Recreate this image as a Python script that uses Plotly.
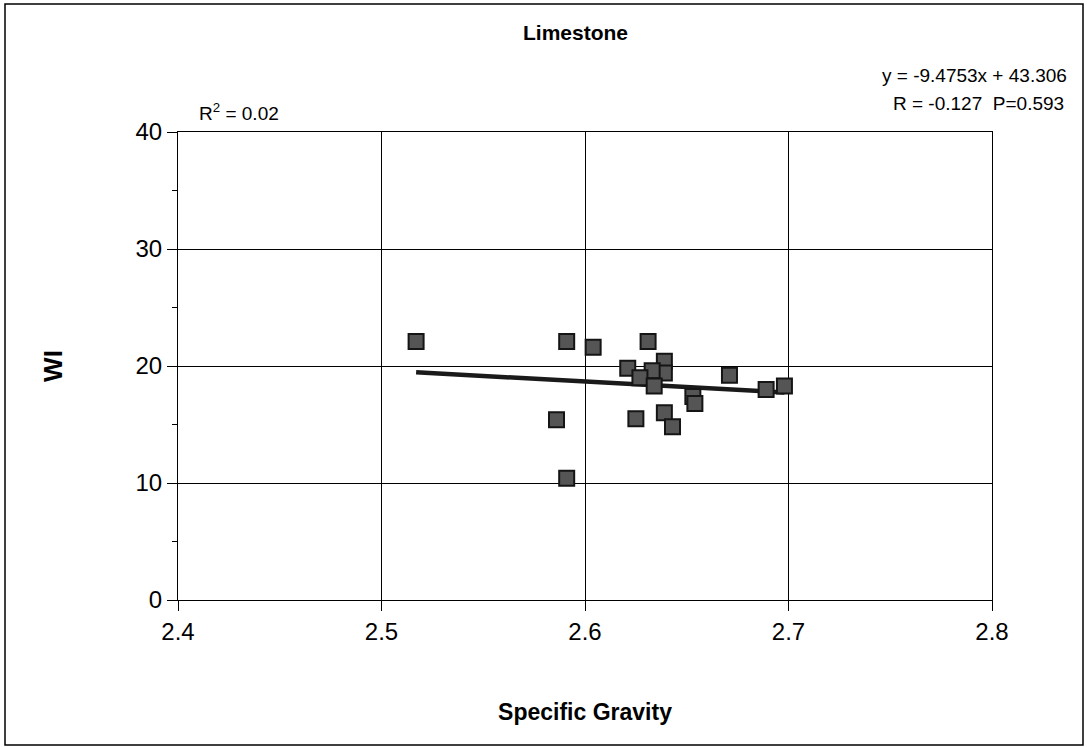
import plotly.graph_objects as go

sg = [2.517, 2.591, 2.604, 2.631, 2.639, 2.639, 2.621, 2.633, 2.627, 2.634,
      2.653, 2.654, 2.586, 2.625, 2.639, 2.643, 2.671, 2.689, 2.698, 2.591]
wi = [22.1, 22.1, 21.6, 22.1, 20.4, 19.4, 19.8, 19.6, 19.0, 18.3,
      17.4, 16.8, 15.4, 15.5, 16.0, 14.8, 19.2, 18.0, 18.3, 10.4]
slope = -9.4753
intercept = 43.306
x_ticks = [2.4, 2.5, 2.6, 2.7, 2.8]
y_ticks = [0, 10, 20, 30, 40]

fit_x = [min(sg), max(sg)]
fit_y = [slope * v + intercept for v in fit_x]

FONT = "Liberation Sans, Arial, sans-serif"

fig = go.Figure()
fig.add_trace(go.Scatter(x=fit_x, y=fit_y, mode="lines",
                         line=dict(color="#1a1a1a", width=4.5), showlegend=False))
fig.add_trace(go.Scatter(x=sg, y=wi, mode="markers",
                         marker=dict(symbol="square", size=15, color="#555555",
                                     line=dict(color="#151515", width=2)),
                         showlegend=False))

W, H = 1087, 747
L, R, T, B = 178, 95, 132, 147
pw, ph = W - L - R, H - T - B


def px(xp):
    return (xp - L) / pw


def py(yp):
    return (H - B - yp) / ph


fig.update_layout(
    width=W, height=H,
    margin=dict(l=L, r=R, t=T, b=B),
    paper_bgcolor="white", plot_bgcolor="white",
    font=dict(family=FONT, color="black"),
    xaxis=dict(range=[2.4, 2.8], tickvals=x_ticks, ticktext=[str(v) for v in x_ticks],
               showgrid=True, gridcolor="black", gridwidth=1,
               showline=True, linecolor="black", linewidth=1, mirror=True,
               ticks="outside", ticklen=10, tickcolor="black",
               tickfont=dict(size=24, family=FONT), zeroline=False,
               title=dict(text="<b>Specific Gravity</b>", font=dict(size=23, family=FONT), standoff=60)),
    yaxis=dict(range=[0, 40], tickvals=y_ticks,
               showgrid=True, gridcolor="black", gridwidth=1,
               showline=True, linecolor="black", linewidth=1, mirror=True,
               ticks="outside", ticklen=10, tickcolor="black",
               minor=dict(dtick=5, tick0=0, ticks="outside", ticklen=5, tickcolor="black", showgrid=False),
               tickfont=dict(size=24, family=FONT), zeroline=False,
               title=dict(text="<b>WI</b>", font=dict(size=26, family=FONT), standoff=65)),
    annotations=[
        dict(text="<b>Limestone</b>", x=px(575), y=py(32), xref="paper", yref="paper",
             showarrow=False, font=dict(size=21, family=FONT), xanchor="center", yanchor="middle"),
        dict(text="R<sup>2</sup> = 0.02", x=px(197), y=py(112), xref="paper", yref="paper",
             showarrow=False, font=dict(size=19, family=FONT), xanchor="left", yanchor="middle"),
        dict(text="y = -9.4753x + 43.306", x=px(1069), y=py(75), xref="paper", yref="paper",
             showarrow=False, font=dict(size=19, family=FONT), xanchor="right", yanchor="middle"),
        dict(text="R = -0.127  P=0.593", x=px(1066), y=py(103), xref="paper", yref="paper",
             showarrow=False, font=dict(size=19, family=FONT), xanchor="right", yanchor="middle"),
    ],
    shapes=[
        dict(type="rect", xref="paper", yref="paper", x0=px(5), x1=px(1083), y0=py(745), y1=py(4),
             line=dict(color="black", width=1.5), fillcolor="rgba(0,0,0,0)", layer="below"),
    ],
)

fig.write_html("out.html")
